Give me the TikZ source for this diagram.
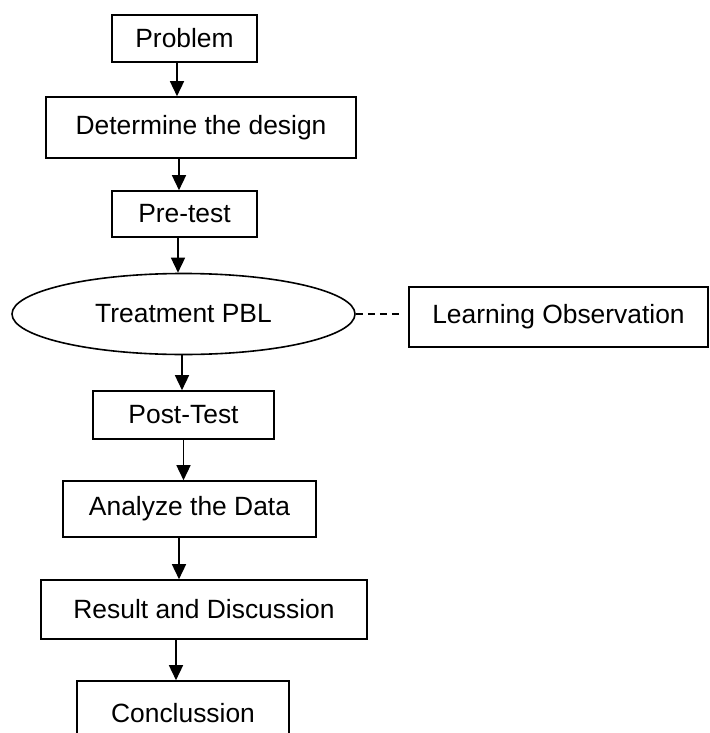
\documentclass[tikz,border=0pt]{standalone}
\usepackage{fontspec}
\setmainfont{Liberation Sans}
\usetikzlibrary{shapes.geometric}
\usetikzlibrary{arrows.meta}

\begin{document}
\begin{tikzpicture}[x=1pt,y=1pt,
  font=\fontsize{26.4}{30}\selectfont,
  box/.style={draw, line width=1.6pt, inner sep=0pt},
  arr/.style={-{Triangle[length=15pt,width=14pt]}, line width=1.5pt},
  link/.style={dash pattern=on 7pt off 5pt, line width=1.3pt}]
\useasboundingbox (0,0) rectangle (709,-733);

\node(prob)[box, minimum width=145pt, minimum height=47pt] at (184.5,-38.5) {Problem};
\node(det)[box, minimum width=310pt, minimum height=61pt] at (201,-127.5) {Determine the design};
\node(pre)[box, minimum width=145pt, minimum height=46pt] at (184.5,-214) {Pre-test};
\node(ell)[box, ellipse, minimum width=343pt, minimum height=81pt] at (183.5,-314) {Treatment PBL};
\node(lo)[box, minimum width=299pt, minimum height=60pt] at (558.5,-317) {Learning Observation};
\node(post)[box, minimum width=181pt, minimum height=48pt] at (183.5,-415) {Post-Test};
\node(ana)[box, minimum width=253pt, minimum height=56pt] at (189.5,-509) {Analyze the Data};
\node(res)[box, minimum width=326pt, minimum height=59pt] at (204,-609.5) {Result and Discussion};
\node(conc)[box, minimum width=212pt, minimum height=64pt] at (183,-713) {Conclussion};

\draw[arr] ([xshift=-7.5pt]prob.south) -- ([xshift=-7.5pt]prob.south |- det.north);
\draw[arr] ([xshift=-22pt]det.south) -- ([xshift=-22pt]det.south |- pre.north);
\draw[arr] ([xshift=-6.5pt]pre.south) -- ([xshift=-6.5pt]pre.south |- ell.north);
\draw[arr] ([xshift=-1.5pt]ell.south) -- ([xshift=-1.5pt]ell.south |- post.north);
\draw[arr] (post.south) -- (post.south |- ana.north);
\draw[arr] ([xshift=-10.5pt]ana.south) -- ([xshift=-10.5pt]ana.south |- res.north);
\draw[arr] ([xshift=-28pt]res.south) -- ([xshift=-28pt]res.south |- conc.north);

\draw[link] (ell.east) -- ([xshift=-6pt]ell.east -| lo.west);
\end{tikzpicture}
\end{document}
